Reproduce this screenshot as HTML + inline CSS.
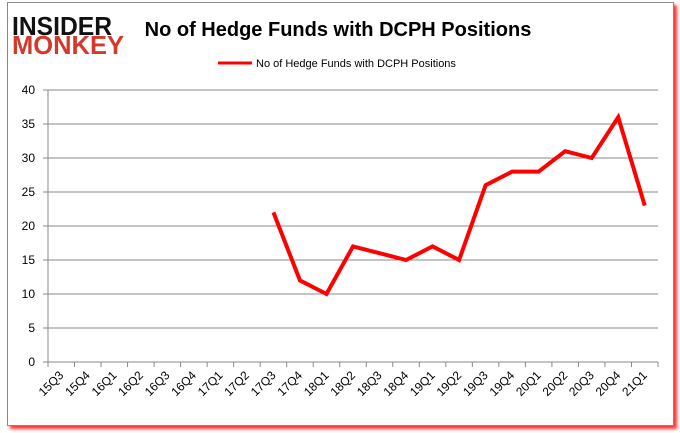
<!DOCTYPE html>
<html><head><meta charset="utf-8"><style>
body{margin:0;background:#fff;width:680px;height:433px;overflow:hidden;font-family:"Liberation Sans",sans-serif}
#frame{position:absolute;left:7px;top:2px;width:665px;height:422px;border:1px solid #888;box-shadow:3px 3px 3px #f33;background:#fff}
</style></head><body>
<div id="frame"></div>
<svg width="680" height="433" style="position:absolute;left:0;top:0" id="chart">
<g>
<text x="12" y="35" font-size="26" font-weight="bold" font-family="Liberation Sans" fill="#111" textLength="100" lengthAdjust="spacingAndGlyphs">INSIDER</text>
<text x="12" y="54" font-size="26" font-weight="bold" font-family="Liberation Sans" fill="#d33a2c" textLength="112" lengthAdjust="spacingAndGlyphs">MONKEY</text>
</g>
<text x="338" y="36" text-anchor="middle" font-size="20" font-weight="bold" fill="#000">No of Hedge Funds with DCPH Positions</text>
<g>
<line x1="218" y1="63" x2="252" y2="63" stroke="red" stroke-width="3"/>
<text x="256" y="67" font-size="11" fill="#000">No of Hedge Funds with DCPH Positions</text>
</g>
<g id="grid"></g><g id="axes"></g><g id="series"></g>
</svg>
<script>
const categories=["15Q3","15Q4","16Q1","16Q2","16Q3","16Q4","17Q1","17Q2","17Q3","17Q4","18Q1","18Q2","18Q3","18Q4","19Q1","19Q2","19Q3","19Q4","20Q1","20Q2","20Q3","20Q4","21Q1"];
const values=[null,null,null,null,null,null,null,null,22,12,10,17,16,15,17,15,26,28,28,31,30,36,23];
const yTicks=[0,5,10,15,20,25,30,35,40];
const NS="http://www.w3.org/2000/svg";
const L=48,R=658,T=90,B=362,yMax=40;
const bw=(R-L)/categories.length;
const x=i=>L+bw*(i+0.5);
const y=v=>B-(v/yMax)*(B-T);
function mk(tag,attrs,parent){const e=document.createElementNS(NS,tag);for(const k in attrs)e.setAttribute(k,attrs[k]);document.getElementById(parent).appendChild(e);return e;}
yTicks.forEach(t=>{
 if(t>0){const g=mk('line',{x1:L,x2:R,y1:y(t),y2:y(t),stroke:'#888','stroke-width':1},'grid');
 
 }
 const tk=mk('line',{x1:L-5,x2:L,y1:y(t),y2:y(t),stroke:'#888'},'axes');
 
 
 const tx=mk('text',{x:L-13,y:y(t)+4,'text-anchor':'end','font-size':12,fill:'#000'},'axes');
 tx.textContent=t;
 
 
});
const ya=mk('line',{x1:L,x2:L,y1:T,y2:B,stroke:'#888'},'axes');


const xa=mk('line',{x1:L,x2:R,y1:B,y2:B,stroke:'#888'},'axes');


categories.forEach((c,i)=>{
 const xt=L+bw*i;
 const tk=mk('line',{x1:xt,x2:xt,y1:B,y2:B+5,stroke:'#888'},'axes');
 
 
 const cx=x(i)+3,cy=B+14;
 const tx=mk('text',{x:cx,y:cy,'text-anchor':'end','font-size':12,fill:'#000',transform:`rotate(-45 ${cx} ${cy})`},'axes');
 tx.textContent=c;
 
 
});
let d='';values.forEach((v,i)=>{if(v==null)return;d+=(d?'L':'M')+x(i)+' '+y(v)+' ';});
const p=mk('path',{d:d,fill:'none',stroke:'red','stroke-width':4,'stroke-linejoin':'miter'},'series');


const last=mk('line',{x1:R,x2:R,y1:B,y2:B+5,stroke:'#888'},'axes');


</script>
</body></html>
